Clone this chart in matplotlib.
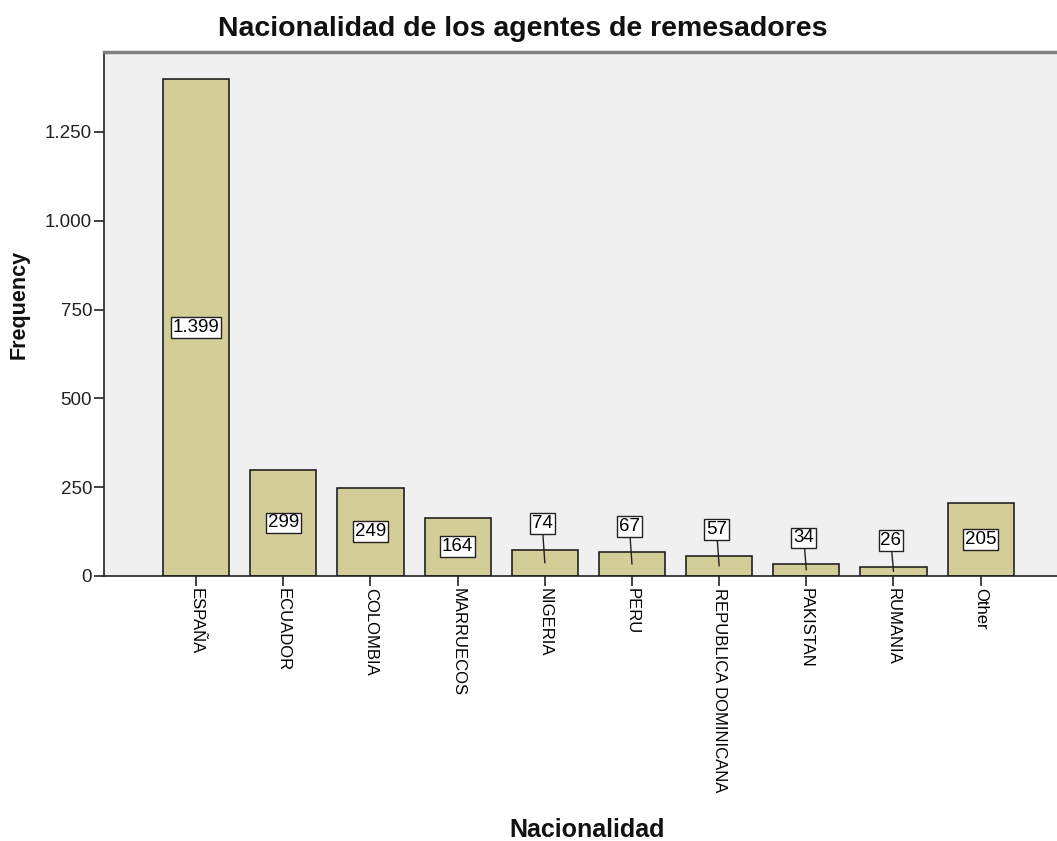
import matplotlib
matplotlib.use("Agg")
import matplotlib.pyplot as plt

categories = ["ESPAÑA", "ECUADOR", "COLOMBIA", "MARRUECOS", "NIGERIA", "PERU",
              "REPUBLICA DOMINICANA", "PAKISTAN", "RUMANIA", "Other"]
values = [1399, 299, 249, 164, 74, 67, 57, 34, 26, 205]
yticks = [0, 250, 500, 750, 1000, 1250]
ytick_labels = ["0", "250", "500", "750", "1.000", "1.250"]

def fmt(v):
    return f"{v:,}".replace(",", ".")

plt.rcParams['font.family'] = ['Liberation Sans', 'DejaVu Sans']

fig = plt.figure(figsize=(10.57, 8.41), dpi=100)
ax = fig.add_axes([104/1057, 1 - 576/841, 1 - 104/1057 + 0.002, (576 - 52)/841])
ax.set_facecolor("#F0F0F0")

x = list(range(len(categories)))
ax.bar(x, values, width=0.76, color="#D3CE98", edgecolor="#222222", linewidth=1.2, zorder=2)

ax.set_xlim(-1.057, 9.9)
ax.set_ylim(0, 1475)
ax.set_yticks(yticks)
ax.set_yticklabels(ytick_labels, fontsize=13.5, color="#222222")
ax.set_xticks(x)
ax.set_xticklabels(categories, rotation=270, fontsize=12, va="top", ha="center")
ax.tick_params(axis="both", direction="out", length=7.5, width=1.2, color="#222222")
ax.tick_params(axis="x", pad=1)
ax.tick_params(axis="y", pad=1)

for s in ["left", "bottom"]:
    ax.spines[s].set_color("#222222")
    ax.spines[s].set_linewidth(1.2)
ax.spines["top"].set_color("#808080")
ax.spines["top"].set_linewidth(2.5)
ax.spines["right"].set_visible(False)

box = dict(boxstyle="square,pad=0.1", facecolor="white", edgecolor="#222222", linewidth=1.0)
for xi, v in zip(x, values):
    if v >= 100:
        ax.text(xi, v / 2, fmt(v), ha="center", va="center", fontsize=13.5, bbox=box, zorder=4)
    else:
        ax.annotate(fmt(v), xy=(xi, v / 2), xytext=(xi - 0.03, v + 73), ha="center", va="center",
                    fontsize=13.5, bbox=box, zorder=4,
                    arrowprops=dict(arrowstyle="-", color="#222222", linewidth=1.0,
                                    shrinkA=0, shrinkB=0))

fig.text(523/1057, 1 - 29/841, "Nacionalidad de los agentes de remesadores",
         ha="center", va="center", fontsize=20.5, fontweight="bold", color="#111111")
fig.text(19/1057, 1 - 304/841, "Frequency", rotation=90, ha="center", va="center",
         fontsize=15.5, fontweight="bold", color="#111111")
fig.text(587/1057, 1 - 830/841, "Nacionalidad", ha="center", va="center",
         fontsize=18, fontweight="bold", color="#111111")

fig.savefig("out.png", dpi=100)
